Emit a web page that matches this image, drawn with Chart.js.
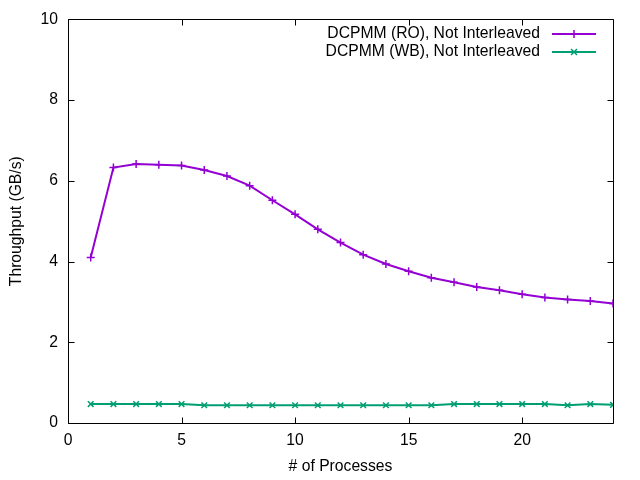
<!DOCTYPE html>
<html>
<head>
<meta charset="utf-8">
<script src="https://cdn.jsdelivr.net/npm/chart.js@4"></script>
<style>
html,body{margin:0;padding:0;background:#fff;}
#wrap{width:640px;height:480px;}
</style>
</head>
<body>
<div id="wrap"><canvas id="c" width="640" height="480"></canvas></div>
<script>
const processes = [1,2,3,4,5,6,7,8,9,10,11,12,13,14,15,16,17,18,19,20,21,22,23,24];
const roValues = [4.10,6.33,6.42,6.40,6.38,6.27,6.12,5.88,5.52,5.17,4.80,4.47,4.17,3.94,3.76,3.60,3.49,3.37,3.29,3.19,3.11,3.06,3.02,2.96];
const wbValues = [0.47,0.47,0.47,0.47,0.47,0.44,0.44,0.44,0.44,0.44,0.44,0.44,0.44,0.44,0.44,0.44,0.47,0.47,0.47,0.47,0.47,0.44,0.47,0.45];
const seriesNames = ['DCPMM (RO), Not Interleaved','DCPMM (WB), Not Interleaved'];
const xTicks = [0,5,10,15,20];
const yTicks = [0,2,4,6,8,10];

const FONT = '"Liberation Sans", Arial, Helvetica, sans-serif';
const FS = 15.7;
const purple = '#9400D3';
const green = '#009E73';

function pts(vals){ return processes.map((p,i)=>({x:p,y:vals[i]})); }

const boxPlugin = {
  id:'box',
  afterDatasetsDraw(chart){
    const ctx = chart.ctx, a = chart.chartArea;
    const xs = chart.scales.x, ys = chart.scales.y;
    ctx.save();
    ctx.strokeStyle = '#000';
    ctx.lineWidth = 1;
    ctx.beginPath();
    const L = Math.round(a.left)+0.5, R = Math.round(a.right)+0.5, T = Math.round(a.top)+0.5, B = Math.round(a.bottom)+0.5;
    ctx.rect(L, T, R-L, B-T);
    const tl = 6;
    xTicks.forEach(v=>{
      const px = Math.round(xs.getPixelForValue(v))+0.5;
      ctx.moveTo(px,B); ctx.lineTo(px,B-tl);
      ctx.moveTo(px,T); ctx.lineTo(px,T+tl);
    });
    yTicks.forEach(v=>{
      const py = Math.round(ys.getPixelForValue(v))+0.5;
      ctx.moveTo(L,py); ctx.lineTo(L+tl,py);
      ctx.moveTo(R,py); ctx.lineTo(R-tl,py);
    });
    ctx.stroke();

    // legend
    ctx.font = FS + 'px ' + FONT;
    ctx.textAlign = 'right';
    ctx.textBaseline = 'middle';
    const rows = [34, 52];
    chart.data.datasets.forEach((ds,i)=>{
      const y = rows[i];
      ctx.fillStyle = '#000';
      ctx.fillText(ds.label, 540, y);
      ctx.strokeStyle = ds.borderColor;
      ctx.lineWidth = 2;
      ctx.beginPath();
      ctx.moveTo(552,y); ctx.lineTo(596,y);
      ctx.stroke();
      ctx.lineWidth = 1.5;
      ctx.beginPath();
      if(ds.pointStyle==='cross'){
        ctx.moveTo(574-4,y); ctx.lineTo(574+4,y);
        ctx.moveTo(574,y-4); ctx.lineTo(574,y+4);
      } else {
        ctx.moveTo(574-3,y-3); ctx.lineTo(574+3,y+3);
        ctx.moveTo(574-3,y+3); ctx.lineTo(574+3,y-3);
      }
      ctx.stroke();
    });
    ctx.restore();
  }
};

new Chart(document.getElementById('c'), {
  type:'line',
  data:{
    datasets:[
      {label:seriesNames[0], data:pts(roValues), borderColor:purple, backgroundColor:purple,
       borderWidth:2, pointStyle:'cross', pointRadius:4, pointBorderWidth:1.5, tension:0, fill:false},
      {label:seriesNames[1], data:pts(wbValues), borderColor:green, backgroundColor:green,
       borderWidth:2, pointStyle:'crossRot', pointRadius:4, pointBorderWidth:1.5, tension:0, fill:false}
    ]
  },
  plugins:[boxPlugin],
  options:{
    responsive:false,
    animation:false,
    devicePixelRatio:1,
    layout:{padding:{top:18,right:27,left:0,bottom:0}},
    plugins:{legend:{display:false}, tooltip:{enabled:false}},
    scales:{
      x:{
        type:'linear', min:0, max:24,
        afterBuildTicks(s){ s.ticks = xTicks.map(v=>({value:v})); },
        afterFit(s){ s.height = 57; },
        grid:{display:false, drawTicks:false},
        border:{display:false},
        ticks:{color:'#000', font:{family:FONT,size:FS}, padding:8, maxRotation:0},
        title:{display:true, text:'# of Processes', color:'#000', font:{family:FONT,size:FS}, padding:{top:0,bottom:4}}
      },
      y:{
        type:'linear', min:0, max:10,
        afterBuildTicks(s){ s.ticks = yTicks.map(v=>({value:v})); },
        afterFit(s){ s.width = 68; },
        grid:{display:false, drawTicks:false},
        border:{display:false},
        ticks:{color:'#000', font:{family:FONT,size:FS}, padding:10},
        title:{display:true, text:'Throughput (GB/s)', color:'#000', font:{family:FONT,size:FS}, padding:{top:7,bottom:0}}
      }
    }
  }
});
</script>
</body>
</html>
